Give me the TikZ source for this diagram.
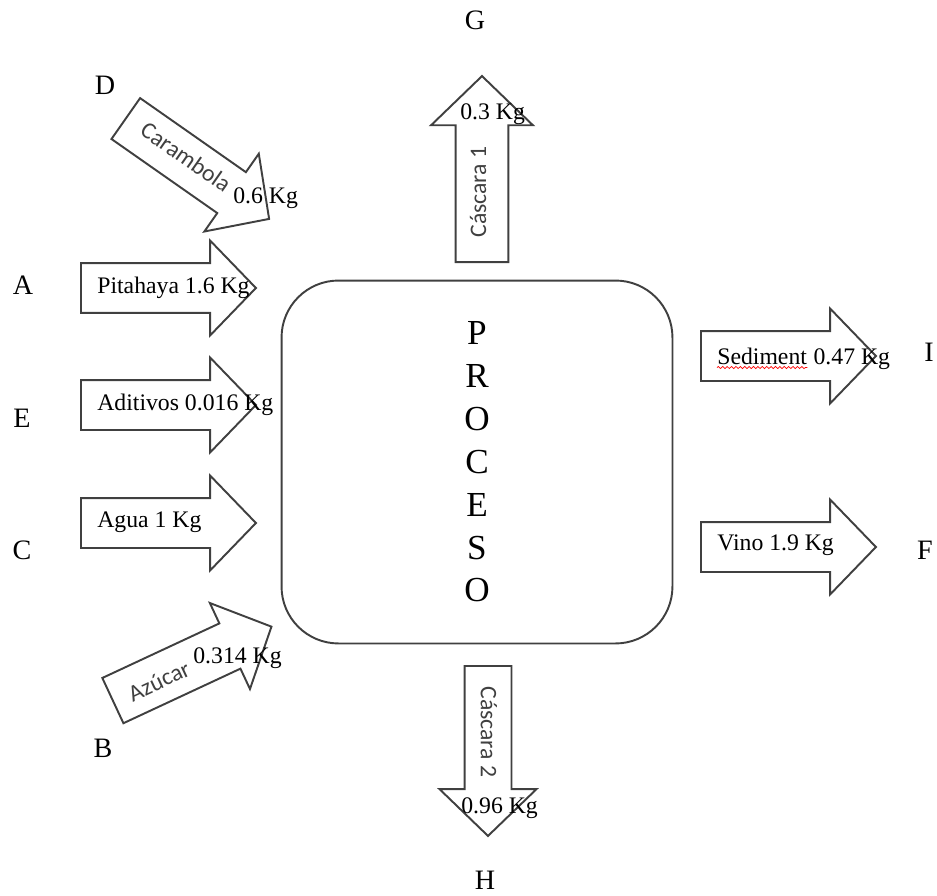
\documentclass[tikz,border=0pt]{standalone}
\usepackage{fontspec}
\setmainfont{Liberation Serif}
\newfontfamily\calibrifont{Carlito}
\usetikzlibrary{shapes.arrows,decorations.pathmorphing}

\begin{document}
\begin{tikzpicture}[x = 0.02cm, y = -0.02cm,
  flow/.style = {single arrow, draw = black!75, line width = 1.1pt, inner xsep = 0pt, inner ysep = 0.48cm,
    minimum height = 3.5cm, minimum width = 1.86cm, single arrow head extend = 0.45cm,
    single arrow tip angle = 92, anchor = tail},
  qty/.style = {inner sep = 0pt, anchor = base west, font = \fontsize{13.5}{16}\selectfont},
  side/.style = {inner sep = 0pt, text = black!75, font = \calibrifont\fontsize{13.5}{16}\selectfont},
  letter/.style = {inner sep = 0pt, font = \fontsize{16}{19}\selectfont}]

  \useasboundingbox (0, 0) rectangle (937, 896);

  \node[draw = black!75, line width = 1.1pt, rounded corners = 1.14cm, minimum width = 7.82cm, minimum height = 7.26cm,
    align = center, font = \fontsize{20}{24.4}\selectfont] (proceso) at (477, 462) {P\\R\\O\\C\\E\\S\\O};

  % entradas
  \node[flow, rotate = -35] (carambola) at (125, 118) {};
  \node[flow] (pitahaya) at (80, 288) {};
  \node[flow] (aditivos) at (80, 405) {};
  \node[flow] (agua) at (80, 523) {};
  \node[flow, rotate = 25] (azucar) at (112, 701) {};

  % salidas
  \node[flow, rotate = 90, minimum height = 3.72cm, inner ysep = 0.51cm, minimum width = 2cm, single arrow head extend = 0.49cm] (cascarauno) at (482, 263) {};
  \node[flow, rotate = -90, minimum height = 3.4cm, inner ysep = 0.45cm, minimum width = 1.9cm, single arrow head extend = 0.5cm] (cascarados) at (488, 665) {};
  \node[flow] (sedimento) at (700, 356) {};
  \node[flow] (vino) at (700, 547) {};

  \node[side, rotate = -35] (lcarambola) at (186, 157) {Carambola};
  \node[side, rotate = 25] (lazucar) at (159, 681) {Azúcar};
  \node[side, rotate = 90] (lcascarauno) at (478, 192) {Cáscara 1};
  \node[side, rotate = -90] (lcascarados) at (489, 732) {Cáscara 2};

  \node[qty] (lpitahaya) at (97, 293) {Pitahaya 1.6 Kg};
  \node[qty] (laditivos) at (97, 410) {Aditivos 0.016 Kg};
  \node[qty] (lagua) at (97, 527) {Agua 1 Kg};
  \node[qty] (lsediment) at (717, 364) {Sediment};
  \node[qty, anchor = base west] (lsedkg) at ([xshift = 3.4pt]lsediment.base east) {0.47 Kg};
  \node[qty] (lvino) at (717, 550) {Vino 1.9 Kg};
  \node[qty] (lcarkg) at (233, 203) {0.6 Kg};
  \node[qty] (lazkg) at (193, 663) {0.314 Kg};
  \node[qty] (lcaskguno) at (460, 119) {0.3 Kg};
  \node[qty] (lcaskgdos) at (461, 813) {0.96 Kg};

  \draw[red, line width = 0.4pt, decorate, decoration = {snake, amplitude = 0.6pt, segment length = 2.5pt}]
    ([yshift = -2pt]lsediment.base west) -- ([yshift = -2pt]lsediment.base east);

  % letras
  \node[letter] (lg) at (475, 20) {G};
  \node[letter] (ld) at (105, 85) {D};
  \node[letter] (la) at (23, 285) {A};
  \node[letter] (le) at (22, 418) {E};
  \node[letter] (lc) at (22, 550) {C};
  \node[letter] (lb) at (103, 748) {B};
  \node[letter] (lh) at (485, 880) {H};
  \node[letter] (li) at (929, 352) {I};
  \node[letter] (lf) at (925, 550) {F};

\end{tikzpicture}
\end{document}
